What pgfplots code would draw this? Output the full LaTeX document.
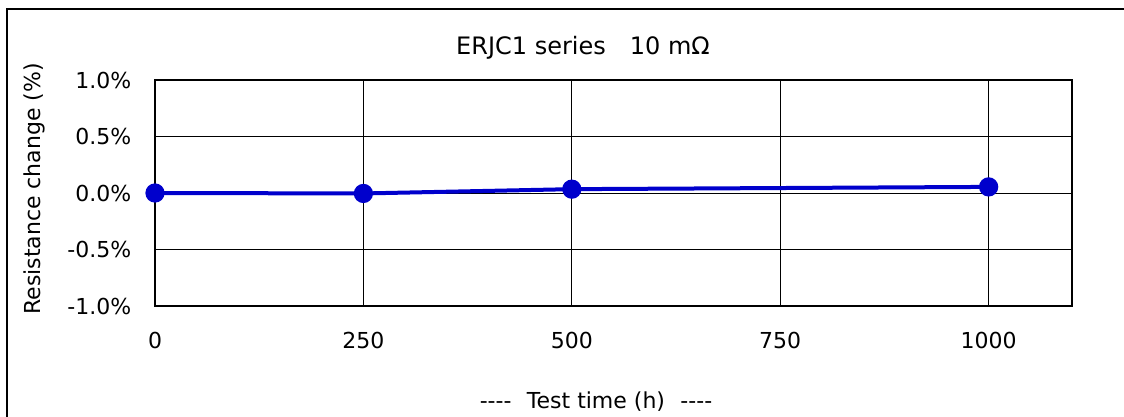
\documentclass[border=0pt]{standalone}
\usepackage{fontspec}
\setmainfont{DejaVu Sans}
\usepackage{pgfplots}
\pgfplotsset{compat=1.18}
\definecolor{lineblue}{RGB}{0,0,204}
\begin{document}
\fontsize{11}{13}\selectfont
\begin{tikzpicture}
\useasboundingbox (0,0) rectangle (562pt,-208.5pt);
\draw[line width=1pt] (3.4pt,-210pt) -- (3.4pt,-4.6pt) -- (563pt,-4.6pt);
\begin{axis}[
  at={(77.5pt,-153pt)}, anchor=south west,
  width=458.5pt, height=113pt, scale only axis,
  xmin=0, xmax=1100, ymin=-1, ymax=1,
  xtick={0,250,500,750,1000},
  ytick={-1,-0.5,0,0.5,1},
  major tick length=0pt,
  grid=major,
  major grid style={black, line width=0.5pt},
  axis line style={black, line width=0.9pt},
  /pgf/number format/assume math mode=true,
  yticklabel={\pgfmathprintnumber[fixed,fixed zerofill,precision=1]{\tick}\%},
  yticklabel style={anchor=east, xshift=-8pt},
  xticklabel style={anchor=north, yshift=-9pt, /pgf/number format/1000 sep={}},
  tick label style={font=\fontsize{11}{13}\selectfont},
  clip=false,
]
\addplot[lineblue, line width=2pt, mark=*, mark size=3.8pt, mark options={fill=lineblue, draw=lineblue}]
  coordinates {(0,0.0) (250,-0.004) (500,0.034) (1000,0.054)};
\end{axis}
\node[font=\fontsize{12}{14}\selectfont] at (291.5pt,-24pt) {ERJC1 series\quad 10 mΩ};
\node at (298pt,-201pt) {{-}{-}{-}{-}\hspace{0.7em}Test time (h)\hspace{0.7em}{-}{-}{-}{-}};
\node[rotate=90] at (17pt,-94.5pt) {Resistance change (\%)};
\end{tikzpicture}
\end{document}
